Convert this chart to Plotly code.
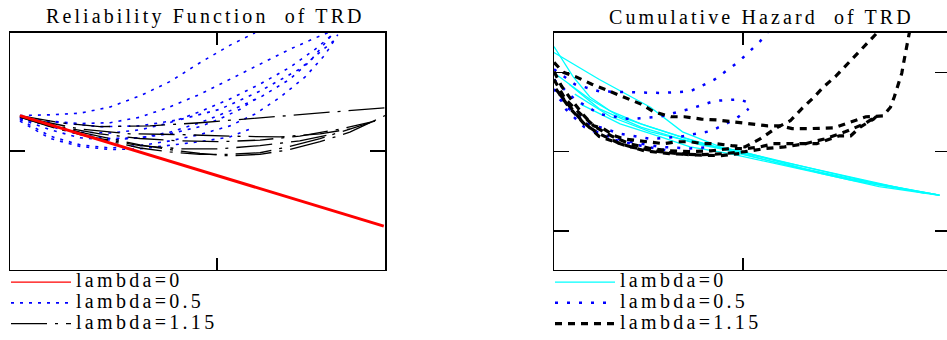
import plotly.graph_objects as go

# ---------------- Left panel: Reliability Function of TRD ----------------
rel_l0_x = [0.24, 2.0, 4.0, 6.0, 8.0, 9.03]
rel_l0_y = [1.95, 1.67, 1.35, 1.04, 0.72, 0.55]

rel_l05_x = [
    [0.24, 0.97, 1.69, 2.42, 3.14, 3.86, 4.59, 5.31, 5.92],
    [0.24, 0.97, 1.69, 2.42, 3.14, 3.86, 4.59, 5.31, 6.04, 6.76, 7.49, 7.68],
    [0.24, 0.97, 1.69, 2.42, 3.14, 3.86, 4.59, 5.31, 6.04, 6.76, 7.37, 7.85],
    [0.24, 0.97, 1.69, 2.42, 3.14, 3.86, 4.59, 5.31, 6.04, 6.76, 7.25, 7.78],
    [0.24, 0.97, 1.69, 2.42, 3.14, 3.86, 4.59, 5.31, 5.92, 6.52, 7.13, 7.61, 7.92],
    [0.24, 0.97, 1.69, 2.42, 3.14, 3.86, 4.59, 5.07, 5.56, 5.92],
    [0.24, 1.21, 2.17, 3.14, 4.11, 5.07, 6.04, 7.0, 7.85],
    [0.24, 0.97, 1.69, 2.42, 3.14, 3.86, 4.59, 5.31, 5.80],
]
rel_l05_y = [
    [1.95, 1.96, 1.98, 2.06, 2.20, 2.38, 2.62, 2.84, 3.0],
    [1.93, 1.88, 1.85, 1.86, 1.93, 2.06, 2.22, 2.41, 2.60, 2.79, 2.96, 3.0],
    [1.92, 1.82, 1.74, 1.73, 1.77, 1.86, 2.0, 2.16, 2.35, 2.56, 2.79, 3.0],
    [1.91, 1.77, 1.67, 1.64, 1.67, 1.74, 1.86, 2.01, 2.18, 2.41, 2.64, 2.975],
    [1.90, 1.69, 1.58, 1.54, 1.57, 1.63, 1.71, 1.82, 1.97, 2.18, 2.44, 2.72, 2.975],
    [1.92, 1.81, 1.71, 1.66, 1.67, 1.72, 1.81, 1.91, 2.03, 2.16],
    [1.93, 1.86, 1.81, 1.82, 1.90, 2.03, 2.26, 2.54, 2.91],
    [1.88, 1.66, 1.56, 1.52, 1.53, 1.57, 1.62, 1.68, 1.78],
]

rel_l115_x = [
    [0.24, 1.21, 2.17, 3.38, 4.59, 5.80, 7.0, 8.21, 9.06],
    [0.24, 0.97, 1.69, 2.42, 3.14, 3.86, 4.59, 5.31, 6.04, 6.76, 7.49, 8.21, 9.06],
    [0.24, 0.97, 1.69, 2.42, 3.14, 3.86, 4.59, 5.31, 6.04, 6.76, 7.49, 8.21, 8.70],
    [0.24, 1.21, 2.17, 3.14, 4.11, 5.07, 6.04, 7.0, 7.97, 8.82],
    [0.24, 1.21, 2.17, 3.14, 4.11, 5.07, 6.04, 7.0, 7.73],
    [0.48, 1.69, 2.90, 4.11, 5.31, 6.52, 7.49, 8.21],
]
rel_l115_y = [
    [1.95, 1.86, 1.81, 1.82, 1.86, 1.91, 1.96, 2.01, 2.05],
    [1.95, 1.83, 1.74, 1.66, 1.58, 1.52, 1.47, 1.44, 1.46, 1.52, 1.62, 1.74, 1.95],
    [1.93, 1.81, 1.71, 1.62, 1.54, 1.49, 1.46, 1.46, 1.48, 1.56, 1.66, 1.78, 1.86],
    [1.95, 1.81, 1.72, 1.66, 1.63, 1.62, 1.64, 1.69, 1.78, 1.88],
    [1.93, 1.78, 1.66, 1.57, 1.53, 1.53, 1.57, 1.63, 1.71],
    [1.91, 1.78, 1.72, 1.71, 1.69, 1.68, 1.72, 1.78],
]

# ---------------- Right panel: Cumulative Hazard of TRD ----------------
haz_l0_x = [
    [0, 0.10, 0.19, 0.30, 0.46, 0.67, 0.88, 1.20, 1.57, 2.04],
    [0, 0.24, 0.51, 0.68, 0.88, 1.09, 1.41, 1.72, 2.04],
    [0.01, 0.19, 0.35, 0.51, 0.72, 0.98, 1.30, 1.67, 2.02],
    [0.08, 0.24, 0.46, 0.67, 0.77, 1.01, 1.25, 1.62, 1.96],
    [0.11, 0.30, 0.51, 0.77, 0.98, 1.09, 1.41, 1.72, 2.04],
    [0.14, 0.35, 0.56, 0.72, 0.93, 1.25, 1.57, 1.94],
]
haz_l0_y = [
    [2.325, 1.95, 1.69, 1.51, 1.35, 1.19, 1.04, 0.85, 0.66, 0.45],
    [2.25, 1.91, 1.56, 1.25, 1.06, 0.94, 0.76, 0.59, 0.45],
    [1.975, 1.66, 1.44, 1.31, 1.15, 0.975, 0.79, 0.60, 0.46],
    [1.85, 1.54, 1.31, 1.16, 1.09, 0.975, 0.85, 0.66, 0.475],
    [1.725, 1.44, 1.25, 1.10, 1.01, 0.94, 0.725, 0.56, 0.45],
    [1.60, 1.35, 1.19, 1.06, 0.975, 0.81, 0.64, 0.49],
]

haz_l05_x = [
    [0, 0.11, 0.24, 0.40, 0.56, 0.72, 0.85, 0.98, 1.09, 1.13],
    [0, 0.11, 0.24, 0.40, 0.56, 0.72, 0.85, 0.98, 1.05],
    [0, 0.08, 0.19, 0.35, 0.51, 0.67, 0.83, 0.96, 1.03],
    [0.03, 0.14, 0.24, 0.40, 0.56, 0.72, 0.83],
    [0.06, 0.16, 0.30, 0.46, 0.61],
]
haz_l05_y = [
    [2.04, 1.85, 1.76, 1.75, 1.74, 1.76, 1.91, 2.14, 2.39, 2.5],
    [1.91, 1.66, 1.475, 1.41, 1.44, 1.54, 1.64, 1.66, 1.60],
    [1.79, 1.54, 1.35, 1.225, 1.16, 1.19, 1.26, 1.41, 1.54],
    [1.66, 1.41, 1.225, 1.125, 1.06, 1.04, 1.06],
    [1.54, 1.31, 1.16, 1.075, 1.01],
]

haz_l115_x = [
    [0, 0.05, 0.12, 0.20, 0.28, 0.37, 0.46, 0.53, 0.62, 0.69, 0.78, 0.86, 0.95, 1.02, 1.13,
     1.20, 1.26, 1.34, 1.41, 1.48, 1.57, 1.65, 1.74, 1.78, 1.80, 1.82, 1.84, 1.85, 1.86, 1.88],
    [0, 0.04, 0.09, 0.16, 0.21, 0.26, 0.32, 0.37, 0.44, 0.51, 0.58, 0.65, 0.72, 0.79, 0.86,
     0.94, 1.01, 1.09, 1.17, 1.25, 1.31, 1.37, 1.43, 1.49, 1.55, 1.61, 1.67, 1.71],
    [0, 0.06, 0.14, 0.22, 0.31, 0.40, 0.51, 0.61, 0.72, 0.83, 0.93, 1.02, 1.09, 1.16, 1.23,
     1.30, 1.39, 1.46, 1.51, 1.57, 1.62, 1.69, 1.72],
    [0.01, 0.08, 0.16, 0.24, 0.35, 0.48, 0.61, 0.77, 0.90, 1.01, 1.12, 1.22, 1.33, 1.43, 1.54,
     1.65, 1.70],
    [0.03, 0.14, 0.24, 0.40, 0.56, 0.72, 0.88, 0.98],
]
haz_l115_y = [
    [2.125, 2.0, 1.94, 1.85, 1.775, 1.69, 1.60, 1.50, 1.44, 1.44, 1.41, 1.40, 1.375, 1.35, 1.325,
     1.325, 1.29, 1.29, 1.29, 1.30, 1.375, 1.44, 1.45, 1.56, 1.69, 1.84, 1.99, 2.125, 2.25, 2.5],
    [2.01, 1.825, 1.66, 1.45, 1.325, 1.29, 1.20, 1.16, 1.14, 1.125, 1.10, 1.125, 1.125, 1.10, 1.10,
     1.075, 1.06, 1.16, 1.29, 1.39, 1.54, 1.675, 1.825, 1.95, 2.10, 2.25, 2.39, 2.5],
    [1.91, 1.66, 1.475, 1.31, 1.19, 1.10, 1.04, 1.01, 1.0, 1.01, 1.04, 1.04, 1.06, 1.10, 1.10,
     1.10, 1.10, 1.16, 1.20, 1.20, 1.31, 1.41, 1.475],
    [1.79, 1.56, 1.35, 1.225, 1.10, 1.01, 0.975, 0.96, 0.975, 1.0, 1.04, 1.06, 1.10, 1.16, 1.25,
     1.36, 1.44],
    [1.725, 1.41, 1.19, 1.06, 1.0, 0.96, 0.95, 0.975],
]

legend_labels = ["lambda=0", "lambda=0.5", "lambda=1.15"]


def join(curves):
    out = []
    for c in curves:
        out.extend(c)
        out.append(None)
    return out


W, H = 951, 340
SPACED = '<span style="font-size:20px;letter-spacing:3.3px">{}</span>'
TITLE = '<span style="letter-spacing:3.1px">{}</span>'

fig = go.Figure()

# left panel traces
fig.add_trace(go.Scatter(x=join(rel_l05_x), y=join(rel_l05_y), mode="lines",
                         line=dict(color="#0000ff", width=1.6, dash="3px,6px"),
                         name=SPACED.format(legend_labels[1]), legend="legend",
                         legendrank=2, xaxis="x", yaxis="y", hoverinfo="skip"))
fig.add_trace(go.Scatter(x=join(rel_l115_x), y=join(rel_l115_y), mode="lines",
                         line=dict(color="#000000", width=1.3, dash="36px,8px,3px,8px"),
                         name=SPACED.format(legend_labels[2]), legend="legend",
                         legendrank=3, xaxis="x", yaxis="y", hoverinfo="skip"))
fig.add_trace(go.Scatter(x=rel_l0_x, y=rel_l0_y, mode="lines",
                         line=dict(color="#ff0000", width=3),
                         legendgroup="rel0", showlegend=False,
                         xaxis="x", yaxis="y", hoverinfo="skip"))
# legend entry for the red series (thin sample line, as in the original legend)
fig.add_trace(go.Scatter(x=[None], y=[None], mode="lines",
                         line=dict(color="#ff0000", width=1.3),
                         legendgroup="rel0",
                         name=SPACED.format(legend_labels[0]), legend="legend",
                         legendrank=1, xaxis="x", yaxis="y", hoverinfo="skip"))

# right panel traces
fig.add_trace(go.Scatter(x=join(haz_l0_x), y=join(haz_l0_y), mode="lines",
                         line=dict(color="#00ffff", width=1.3),
                         name=SPACED.format(legend_labels[0]), legend="legend2",
                         legendrank=1, xaxis="x2", yaxis="y2", hoverinfo="skip"))
fig.add_trace(go.Scatter(x=join(haz_l05_x), y=join(haz_l05_y), mode="lines",
                         line=dict(color="#0000ff", width=2.5, dash="3px,9px"),
                         name=SPACED.format(legend_labels[1]), legend="legend2",
                         legendrank=2, xaxis="x2", yaxis="y2", hoverinfo="skip"))
fig.add_trace(go.Scatter(x=join(haz_l115_x), y=join(haz_l115_y), mode="lines",
                         line=dict(color="#000000", width=3.2, dash="7px,6px"),
                         name=SPACED.format(legend_labels[2]), legend="legend2",
                         legendrank=3, xaxis="x2", yaxis="y2", hoverinfo="skip"))

axis_common = dict(showline=True, linecolor="black", linewidth=1.5, mirror="ticks",
                   ticks="inside", tickwidth=1.5, tickcolor="black",
                   showticklabels=False, showgrid=False, zeroline=False, fixedrange=True)

y_dom = [(H - 272) / H, (H - 33) / H]
legend_common = dict(xanchor="left", yanchor="top", bgcolor="rgba(0,0,0,0)", borderwidth=0,
                     itemwidth=60, traceorder="normal", itemclick=False, itemdoubleclick=False,
                     font=dict(family="Liberation Serif", size=13.7, color="black"))
fig.update_layout(
    width=W, height=H,
    margin=dict(l=0, r=0, t=0, b=0),
    paper_bgcolor="white", plot_bgcolor="white",
    font=dict(family="Liberation Serif", color="black"),
    xaxis=dict(domain=[10 / W, 385 / W], range=[0, 9.06], tickvals=[5], ticklen=12,
               anchor="y", **axis_common),
    yaxis=dict(domain=y_dom, range=[0, 3.0], tickvals=[1.5], ticklen=15,
               anchor="x", **axis_common),
    xaxis2=dict(domain=[554 / W, 950 / W], range=[0, 2.095], tickvals=[1], ticklen=12,
                anchor="y2", **axis_common),
    yaxis2=dict(domain=y_dom, range=[-0.4875, 2.5], tickvals=[0, 1, 2], ticklen=15,
                anchor="x2", **axis_common),
    legend=dict(x=6 / W, y=(H - 269) / H, **legend_common),
    legend2=dict(x=550 / W, y=(H - 269) / H, **legend_common),
    showlegend=True,
    annotations=[
        dict(text=TITLE.format("Reliability Function\u00a0 of TRD"),
             x=205 / W, y=(H - 17) / H, xref="paper", yref="paper", xanchor="center",
             yanchor="middle", showarrow=False,
             font=dict(family="Liberation Serif", size=20, color="black")),
        dict(text=TITLE.format("Cumulative Hazard\u00a0 of TRD"),
             x=761 / W, y=(H - 17) / H, xref="paper", yref="paper", xanchor="center",
             yanchor="middle", showarrow=False,
             font=dict(family="Liberation Serif", size=20, color="black")),
    ],
)

fig.write_html(
    "out.html",
    config={"displayModeBar": False, "staticPlot": True},
    post_script="document.body.style.margin='0';document.body.style.overflow='hidden';",
)
